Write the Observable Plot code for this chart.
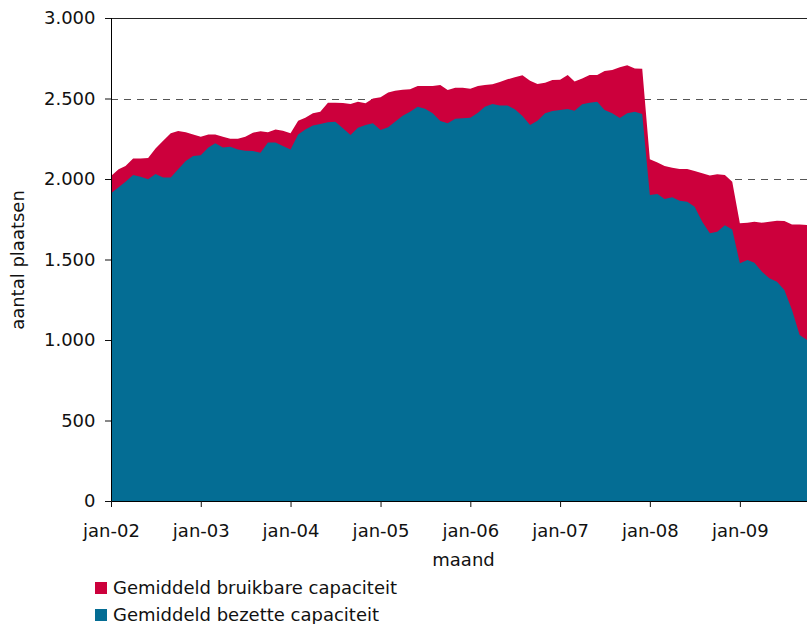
<!DOCTYPE html>
<html><head><meta charset="utf-8">
<script src="https://cdn.jsdelivr.net/npm/d3@7"></script>
<script src="https://cdn.jsdelivr.net/npm/@observablehq/plot@0.6"></script>
<style>
html,body{margin:0;padding:0;background:#fff;font-family:"DejaVu Sans",Verdana,sans-serif;}
#chart svg{display:block}
#legend{font-size:18px;color:#111;margin-left:95px}
.row{height:27px;display:flex;align-items:center}
.sw{width:12px;height:12px;margin-right:6px;flex:none}
</style></head><body>
<div id="chart"></div>
<div id="legend"></div>
<script>
const startYear = 2002;
const seriesNames = ["Gemiddeld bruikbare capaciteit", "Gemiddeld bezette capaciteit"];
const seriesColors = ["#cc003c", "#046d94"];
const yTicks = [0, 500, 1000, 1500, 2000, 2500, 3000];
const bruikbaar = [
  2019, 2060, 2081, 2128, 2128, 2130, 2190, 2238, 2284, 2298, 2290, 2277,
  2263, 2277, 2277, 2263, 2250, 2250, 2263, 2288, 2296, 2290, 2308, 2300,
  2284, 2362, 2381, 2408, 2418, 2474, 2474, 2472, 2466, 2480, 2470, 2500,
  2507, 2538, 2548, 2555, 2557, 2578, 2578, 2578, 2584, 2553, 2567, 2567,
  2561, 2578, 2584, 2588, 2602, 2619, 2632, 2644, 2610, 2590, 2598, 2615,
  2617, 2646, 2605, 2625, 2646, 2646, 2671, 2677, 2694, 2706, 2687, 2685,
  2122, 2103, 2081, 2070, 2062, 2062, 2050, 2035, 2021, 2029, 2025, 1983,
  1725, 1729, 1735, 1729, 1735, 1741, 1739, 1718, 1718, 1714
];
const bezet = [
  1911, 1948, 1983, 2025, 2014, 1998, 2031, 2010, 2010, 2060, 2112, 2143,
  2147, 2195, 2222, 2195, 2200, 2184, 2176, 2174, 2163, 2226, 2226, 2205,
  2184, 2277, 2308, 2333, 2341, 2352, 2356, 2315, 2273, 2319, 2335, 2346,
  2304, 2321, 2356, 2393, 2418, 2449, 2437, 2408, 2360, 2346, 2375, 2377,
  2381, 2412, 2449, 2466, 2457, 2457, 2433, 2391, 2335, 2362, 2408, 2422,
  2428, 2435, 2424, 2464, 2474, 2480, 2428, 2408, 2379, 2408, 2418, 2404,
  1900, 1907, 1876, 1886, 1865, 1859, 1828, 1735, 1663, 1673, 1712, 1687,
  1476, 1497, 1480, 1424, 1383, 1362, 1311, 1186, 1031, 1000
];

const months = d3.utcMonth.range(new Date(Date.UTC(startYear, 0, 1)), new Date(Date.UTC(startYear, bruikbaar.length, 1)));
const data = months.map((m, i) => ({month: m, bruikbaar: bruikbaar[i], bezet: bezet[i]}));
const xTicks = d3.utcYear.range(months[0], months[months.length - 1]);
const fmt = d => d3.format(",")(d).replace(/,/g, ".");
const inner = yTicks.filter(d => d > 0 && d < 3000);
const gridA = inner.filter(d => d % 1000 !== 0);
const gridB = inner.filter(d => d % 1000 === 0);
const grid = {stroke: "#555", strokeDasharray: "7,6", strokeWidth: 1};

const plot = Plot.plot({
  width: 807, height: 574,
  marginLeft: 111, marginRight: 0, marginTop: 18, marginBottom: 73,
  style: {fontFamily: "'DejaVu Sans', Verdana, sans-serif", fontSize: "18px", color: "#111", background: "#fff", overflow: "visible"},
  x: {type: "utc", domain: [months[0], months[months.length - 1]]},
  y: {domain: [0, 3000]},
  marks: [
    Plot.ruleY(gridA, {...grid, dy: 0.5}),
    Plot.ruleY(gridB, grid),
    Plot.areaY(data, {x: "month", y: "bruikbaar", fill: seriesColors[0]}),
    Plot.areaY(data, {x: "month", y: "bezet", fill: seriesColors[1]}),
    Plot.ruleY([3000], {stroke: "#222", strokeWidth: 1}),
    Plot.ruleY([0], {stroke: "#000", strokeWidth: 1}),
    Plot.ruleX([months[0]], {stroke: "#000", strokeWidth: 1}),
    Plot.axisY({ticks: yTicks, tickFormat: fmt, tickSize: 6, tickPadding: 10, label: null}),
    Plot.axisX({ticks: xTicks, tickFormat: d => "jan-" + String(d.getUTCFullYear()).slice(2), tickSize: 6, tickPadding: 17, label: null}),
    Plot.text(["maand"], {text: d => d, frameAnchor: "bottom", lineAnchor: "middle", textAnchor: "middle", dy: 59, dx: 4}),
    Plot.text(["aantal plaatsen"], {text: d => d, frameAnchor: "left", textAnchor: "middle", lineAnchor: "middle", dx: -93, rotate: -90})
  ]
});
document.getElementById("chart").appendChild(plot);

const legend = document.getElementById("legend");
seriesNames.forEach((name, i) => {
  const row = document.createElement("div");
  row.className = "row";
  const sw = document.createElement("span");
  sw.className = "sw";
  sw.style.background = seriesColors[i];
  const t = document.createElement("span");
  t.textContent = name;
  row.appendChild(sw); row.appendChild(t);
  legend.appendChild(row);
});
</script>
</body></html>
